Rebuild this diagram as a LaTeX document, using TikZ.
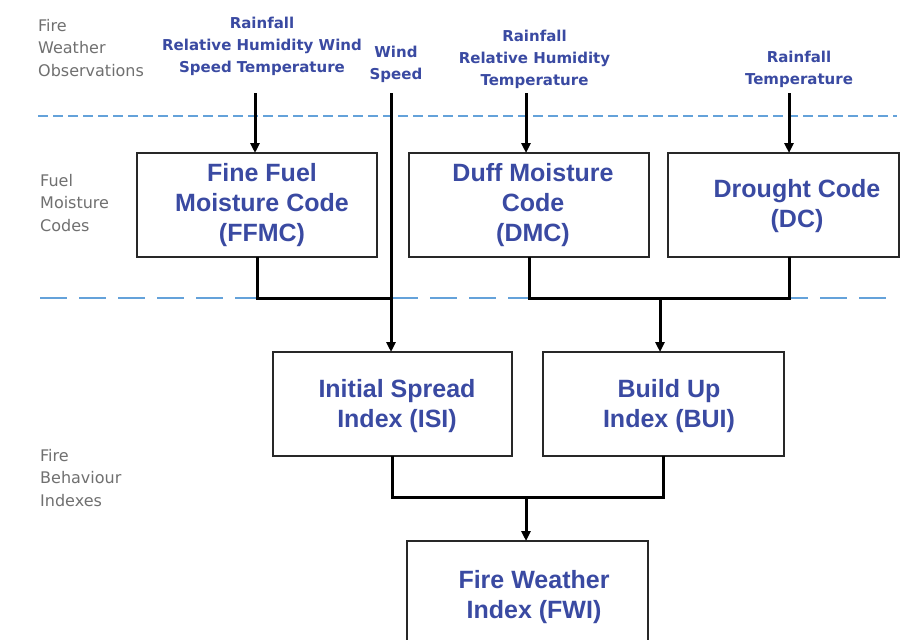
\documentclass[tikz,border=0pt]{standalone}
\usepackage{fontspec}
\setmainfont{Liberation Sans}
\newfontfamily\verdanalike{DejaVu Sans}
\usetikzlibrary{arrows.meta}
\definecolor{txtblue}{RGB}{58,74,162}
\definecolor{txtgray}{RGB}{112,112,112}
\definecolor{dashblue}{RGB}{100,162,218}
\definecolor{boxline}{RGB}{40,40,40}
\tikzset{
  x=1pt, y=-1pt,
  fwibox/.style={draw=boxline, line width=2.5pt, fill=none, inner sep=0pt, outer sep=0pt},
  boxtext/.style={text=txtblue, align=center, inner sep=0pt, font=\bfseries\fontsize{25}{30}\selectfont},
  obstext/.style={text=txtblue, align=center, inner sep=0pt, anchor=north, font=\verdanalike\bfseries\fontsize{15}{22}\selectfont},
  sidetext/.style={text=txtgray, align=left, inner sep=0pt, anchor=north west, font=\verdanalike\fontsize{16}{22.5}\selectfont},
  conn/.style={draw=black, line width=3pt, line join=miter},
  arr/.style={conn, -{Triangle[length=10pt,width=9pt]}},
  dashone/.style={draw=dashblue, line width=2.2pt, dash pattern=on 10pt off 5pt},
  dashtwo/.style={draw=dashblue, line width=2.6pt, dash pattern=on 27pt off 12pt},
}
\begin{document}
\begin{tikzpicture}
\clip (0,0) rectangle (911,640);
\fill[white] (0,0) rectangle (911,640);
\useasboundingbox (0,0) rectangle (911,640);

% separators
\draw[dashone] (38,116) -- (897,116);
\draw[dashtwo] (40,298) -- (890,298);

% side labels
\node[sidetext] (lobs) at (38,19) {Fire\\Weather\\Observations};
\node[sidetext] (lfmc) at (40,174) {Fuel\\Moisture\\Codes};
\node[sidetext] (lfbi) at (40,449) {Fire\\Behaviour\\Indexes};

% observation labels
\node[obstext] (obs1) at (262,17) {Rainfall\\Relative Humidity Wind\\Speed Temperature};
\node[obstext] (obs2) at (396,46) {Wind\\Speed};
\node[obstext] (obs3) at (534.5,30) {Rainfall\\Relative Humidity\\Temperature};
\node[obstext] (obs4) at (799,51) {Rainfall\\Temperature};

% boxes
\node[fwibox, minimum width=240pt, minimum height=104pt] (ffmc) at (257,205) {};
\node[fwibox, minimum width=240pt, minimum height=104pt] (dmc) at (529,205) {};
\node[fwibox, minimum width=231pt, minimum height=104pt] (dc) at (783.5,205) {};
\node[fwibox, minimum width=239pt, minimum height=104pt] (isi) at (392.5,404) {};
\node[fwibox, minimum width=241pt, minimum height=104pt] (bui) at (663.5,404) {};
\node[fwibox, minimum width=241pt, minimum height=110pt] (fwi) at (527.5,596) {};

% box texts
\node[boxtext] (ffmct) at (262,205) {Fine Fuel\\Moisture Code\\(FFMC)};
\node[boxtext] (dmct) at (533,205) {Duff Moisture\\Code\\(DMC)};
\node[boxtext] (dct) at (797,206) {Drought Code\\(DC)};
\node[boxtext] (isit) at (397,406) {Initial Spread\\Index (ISI)};
\node[boxtext] (buit) at (669,406) {Build Up\\Index (BUI)};
\node[boxtext] (fwit) at (534,597) {Fire Weather\\Index (FWI)};

% input coordinates
\coordinate (in1) at (255,93);
\coordinate (in2) at (391,93);
\coordinate (in3) at (526,93);
\coordinate (in4) at (789,93);
\coordinate (j1) at (391,298);
\coordinate (j2) at (660,298);
\coordinate (j3) at (526,497);

% inputs
\draw[arr] (in1) -- (in1 |- ffmc.north);
\draw[arr] (in2) -- (in2 |- isi.north);
\draw[arr] (in3) -- (in3 |- dmc.north);
\draw[arr] (in4) -- (in4 |- dc.north);

% codes to indexes
\draw[conn] (ffmc.south) |- (j1);
\draw[conn] (dmc.south) |- (in4 |- j2) -- (in4 |- dc.south);
\draw[arr] (j2) -- (j2 |- bui.north);

% indexes to FWI
\draw[conn] (isi.south) |- (bui.south |- j3) -- (bui.south);
\draw[arr] (j3) -- (j3 |- fwi.north);
\end{tikzpicture}
\end{document}
